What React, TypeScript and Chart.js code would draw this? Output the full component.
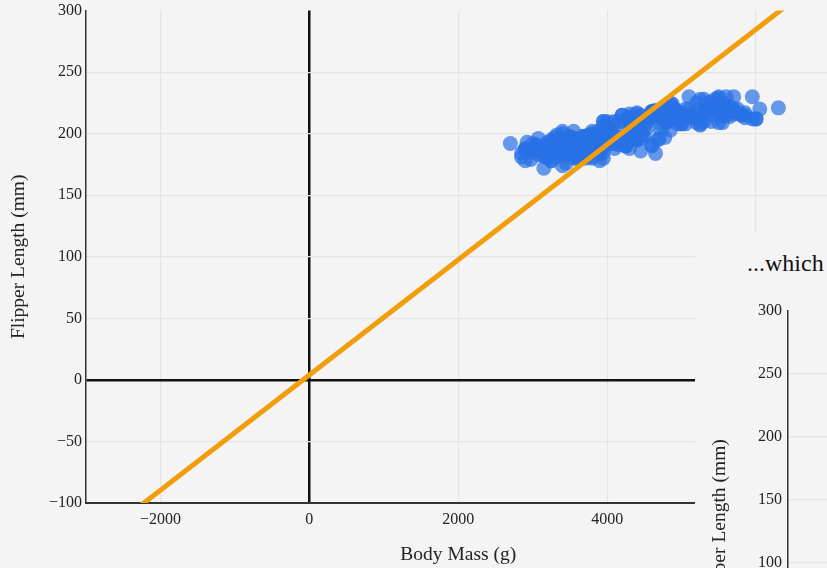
import React, { useEffect, useRef } from 'react';
import { Chart, registerables } from 'chart.js';

Chart.register(...registerables);

// Body mass (g), flipper length (mm)
const adelie: [number, number][] = [
  [3750,181],[3800,186],[3250,195],[3450,193],[3650,190],[3625,181],[4675,195],[3475,193],[4250,190],[3300,186],
  [3700,180],[3200,182],[3800,191],[4400,198],[3700,185],[3450,195],[4500,197],[3325,184],[4200,194],[3400,174],
  [3600,180],[3800,189],[3950,185],[3800,180],[3800,187],[3550,183],[3200,187],[3150,172],[3950,180],[3250,178],
  [3900,178],[3300,188],[3900,184],[3325,195],[4150,196],[3950,190],[3550,180],[3300,181],[4650,184],[3150,182],
  [3900,195],[3100,186],[4400,196],[3000,185],[4600,190],[3425,182],[2975,179],[3450,190],[4150,191],[3500,186],
  [4300,188],[3450,190],[4050,200],[2900,187],[3700,191],[3550,186],[3800,193],[2850,181],[3750,194],[3150,185],
  [4400,195],[3600,185],[4050,192],[2850,184],[3950,192],[3350,195],[4100,188],[3050,190],[4450,198],[3600,190],
  [3900,190],[3550,196],[4150,197],[3700,190],[4250,195],[3700,191],[3900,184],[3550,187],[4000,195],[3200,189],
  [4700,196],[3800,187],[4200,193],[3350,191],[3550,194],[3800,190],[3500,189],[3950,189],[3600,190],[3550,202],
  [4300,205],[3400,185],[4450,186],[3300,187],[4300,208],[3700,190],[4350,196],[2900,178],[4100,192],[3725,192],
  [4725,203],[3075,183],[4250,190],[2925,193],[3550,184],[3750,199],[3900,190],[3175,181],[4775,197],[3825,198],
  [4600,191],[3200,193],[4275,197],[3900,191],[3075,196],[2900,188],[3775,199],[3350,189],[3325,189],[3150,187],
  [3500,198],[3450,176],[3875,202],[3050,186],[4000,199],[3275,191],[4300,195],[3050,191],[4000,210],[3325,190],
  [3500,197],[3500,193],[4475,199],[3425,187],[3900,190],[3175,191],[3975,200],[3400,185],[4250,193],[3400,193],
  [3475,187],[3050,188],[3725,190],[3000,192],[3650,185],[4250,190],[3475,184],[3450,195],[3750,193],[3700,187],
  [4000,201]
];

const chinstrap: [number, number][] = [
  [3500,192],[3900,196],[3650,193],[3525,188],[3725,197],[3950,198],[3250,178],[3750,197],[4150,195],[3700,198],
  [3800,193],[3775,194],[3700,185],[4050,201],[3575,190],[4050,201],[3300,197],[3700,181],[3450,190],[4400,195],
  [3600,181],[3400,191],[2900,187],[3800,193],[3300,195],[4150,197],[3400,200],[3800,200],[3700,191],[4550,205],
  [3200,187],[4300,201],[3350,187],[4100,203],[3600,195],[3900,199],[3850,195],[4800,210],[2700,192],[4500,205],
  [3950,210],[3650,187],[3550,196],[3500,196],[3675,196],[4450,201],[3400,190],[4300,212],[3250,187],[3675,198],
  [3325,199],[3950,201],[3600,193],[4050,203],[3350,187],[3450,197],[3250,191],[4050,203],[3800,202],[3525,194],
  [3950,206],[3650,189],[3650,195],[4000,207],[3400,202],[3775,193],[4100,210],[3775,198]
];

const gentoo: [number, number][] = [
  [4500,211],[5700,230],[4450,210],[5700,218],[5400,215],[4550,210],[4800,211],[5200,219],[4400,209],[5150,215],
  [4650,214],[5550,216],[4650,214],[5850,213],[4200,210],[5850,217],[4150,210],[6300,221],[4800,209],[5350,222],
  [5700,218],[5000,215],[4400,213],[5050,215],[5000,215],[5100,215],[5650,220],[4600,217],[5550,209],[5250,207],
  [4700,219],[5050,220],[6050,220],[5150,213],[5400,219],[4950,208],[5250,208],[4350,208],[5350,225],[3950,210],
  [5700,216],[4300,214],[4750,217],[5550,225],[4900,213],[4200,215],[5400,210],[5100,220],[5300,210],[4850,225],
  [5300,217],[4400,216],[5000,208],[4900,220],[5050,208],[4300,216],[5000,208],[4450,215],[5550,214],[4200,215],
  [5300,219],[4400,217],[5650,214],[4700,218],[5700,220],[4650,219],[5800,216],[4700,217],[5550,221],[4750,217],
  [5000,216],[5100,230],[5200,209],[4700,216],[5800,215],[4600,218],[6000,212],[4750,221],[5950,212],[4625,218],
  [5450,228],[4725,218],[5350,218],[4750,212],[5600,230],[4600,218],[5300,228],[4875,212],[5550,224],[4950,214],
  [5400,226],[4750,216],[5650,222],[4850,203],[5200,225],[4925,219],[4875,224],[4625,215],[5250,228],[4850,216],
  [5600,215],[4975,210],[5500,219],[4725,208],[5500,209],[4700,216],[5500,229],[4575,213],[5500,230],[5000,217],
  [5950,230],[4650,217],[5500,222],[4375,214],[5850,215],[4875,222],[6000,212],[4925,213],[4850,222],[5750,220],
  [5200,213]
];

// Fitted line end points (body mass g -> flipper mm)
const fitLineMass = [-3000, 7000];
const fitLineFlipper = [-136.4, 331.6];

const xTickValues = [-2000, 0, 2000, 4000, 6000];
const yMin = -100;
const yMax = 300;
const yStep = 50;

const sideYMin = -34;
const sideYMax = 300;
const sideYTicks = [0, 50, 100, 150, 200, 250, 300];

const FONT = "'Liberation Serif', 'Times New Roman', serif";
const BG = '#f4f4f4';
const GRID = '#e4e4e4';
const POINT = 'rgba(40,112,230,0.7)';
const ORANGE = '#f29e0c';

function fmt(v: number): string {
  return v < 0 ? '\u2212' + Math.abs(v) : String(v);
}

export default function App() {
  const mainRef = useRef<HTMLCanvasElement>(null);
  const sideRef = useRef<HTMLCanvasElement>(null);

  useEffect(() => {
    const pts = [...adelie, ...chinstrap, ...gentoo].map(([x, y]) => ({ x, y }));
    const linePts = fitLineMass.map((x, i) => ({ x, y: fitLineFlipper[i] }));

    const main = new Chart(mainRef.current!, {
      type: 'scatter',
      data: {
        datasets: [
          {
            data: linePts,
            showLine: true,
            borderColor: ORANGE,
            borderWidth: 5,
            pointRadius: 0,
            fill: false,
            clip: 0,
            order: 0,
          } as any,
          {
            data: pts,
            backgroundColor: POINT,
            borderWidth: 0,
            pointRadius: 7.5,
            pointHoverRadius: 7.5,
            order: 1,
          } as any,
        ],
      },
      options: {
        responsive: false,
        animation: false,
        events: [],
        layout: { padding: { top: 7, left: 0, right: 0, bottom: 0 } },
        plugins: { legend: { display: false }, tooltip: { enabled: false } },
        scales: {
          x: {
            type: 'linear',
            min: -3000,
            max: 7000,
            afterBuildTicks: (s: any) => {
              s.ticks = xTickValues.map((value) => ({ value }));
            },
            afterFit: (s: any) => {
              s.height = 68;
            },
            grid: {
              drawTicks: false,
              color: (c: any) => (c.tick && c.tick.value === 0 ? '#111' : GRID),
              lineWidth: (c: any) => (c.tick && c.tick.value === 0 ? 2.5 : 1.2),
            },
            border: { display: true, color: '#333', width: 2 },
            ticks: {
              padding: 7,
              color: '#222',
              font: { family: FONT, size: 16 },
              callback: (v: any) => fmt(Number(v)),
            },
            title: {
              display: true,
              text: 'Body Mass (g)',
              color: '#222',
              font: { family: FONT, size: 19.5 },
              padding: { top: 0, bottom: 4 },
            },
          },
          y: {
            type: 'linear',
            min: yMin,
            max: yMax,
            afterFit: (s: any) => {
              s.width = 86;
            },
            grid: {
              drawTicks: false,
              color: (c: any) =>
                c.tick && c.tick.value === 0 ? '#111' : c.tick && c.tick.value === yMax ? 'rgba(0,0,0,0)' : GRID,
              lineWidth: (c: any) => (c.tick && c.tick.value === 0 ? 2.5 : 1.2),
            },
            border: { display: true, color: '#333', width: 1.5 },
            ticks: {
              stepSize: yStep,
              padding: 4,
              color: '#222',
              font: { family: FONT, size: 16 },
              callback: (v: any) => fmt(Number(v)),
            },
            title: {
              display: true,
              text: 'Flipper Length (mm)',
              color: '#222',
              font: { family: FONT, size: 19.5 },
              padding: { top: 7, bottom: 0 },
            },
          },
        },
      },
    });

    const side = new Chart(sideRef.current!, {
      type: 'scatter',
      data: {
        datasets: [
          {
            data: pts,
            backgroundColor: POINT,
            borderWidth: 0,
            pointRadius: 7.5,
          } as any,
        ],
      },
      options: {
        responsive: false,
        animation: false,
        events: [],
        layout: { padding: { top: 21, left: 0, right: 0, bottom: 0 } },
        plugins: { legend: { display: false }, tooltip: { enabled: false } },
        scales: {
          x: {
            type: 'linear',
            min: 2000,
            max: 7000,
            afterFit: (s: any) => {
              s.height = 40;
            },
            grid: { drawTicks: false, color: GRID, lineWidth: 1.2 },
            border: { display: true, color: '#333', width: 1.5 },
            ticks: {
              padding: 7,
              color: '#222',
              font: { family: FONT, size: 16 },
              callback: (v: any) => fmt(Number(v)),
            },
          },
          y: {
            type: 'linear',
            min: sideYMin,
            max: sideYMax,
            afterBuildTicks: (s: any) => {
              s.ticks = sideYTicks.map((value) => ({ value }));
            },
            afterFit: (s: any) => {
              s.width = 93;
            },
            grid: {
              drawTicks: false,
              color: (c: any) => (c.tick && c.tick.value === sideYMax ? 'rgba(0,0,0,0)' : GRID),
              lineWidth: 1.2,
            },
            border: { display: true, color: '#333', width: 1.5 },
            ticks: {
              padding: 6,
              color: '#222',
              font: { family: FONT, size: 16 },
              callback: (v: any) => fmt(Number(v)),
            },
            title: {
              display: true,
              text: 'Flipper Length (mm)',
              color: '#222',
              font: { family: FONT, size: 19.5 },
              padding: { top: 13, bottom: 0 },
            },
          },
        },
      },
    });

    return () => {
      main.destroy();
      side.destroy();
    };
  }, []);

  return (
    <div
      style={{
        position: 'fixed',
        left: 0,
        top: 0,
        width: 827,
        height: 568,
        overflow: 'hidden',
        background: BG,
      }}
    >
      <canvas
        ref={mainRef}
        width={838}
        height={574}
        style={{ position: 'absolute', left: 0, top: -3, width: 838, height: 574, display: 'block' }}
      />
      <div
        style={{
          position: 'absolute',
          left: 695,
          top: 233,
          width: 200,
          height: 400,
          background: BG,
        }}
      />
      <div
        style={{
          position: 'absolute',
          left: 747,
          top: 251,
          fontFamily: FONT,
          fontSize: 24,
          lineHeight: '24px',
          color: '#111',
          whiteSpace: 'nowrap',
        }}
      >
        ...which
      </div>
      <canvas
        ref={sideRef}
        width={700}
        height={482}
        style={{ position: 'absolute', left: 695, top: 290, width: 700, height: 482, display: 'block' }}
      />
    </div>
  );
}
